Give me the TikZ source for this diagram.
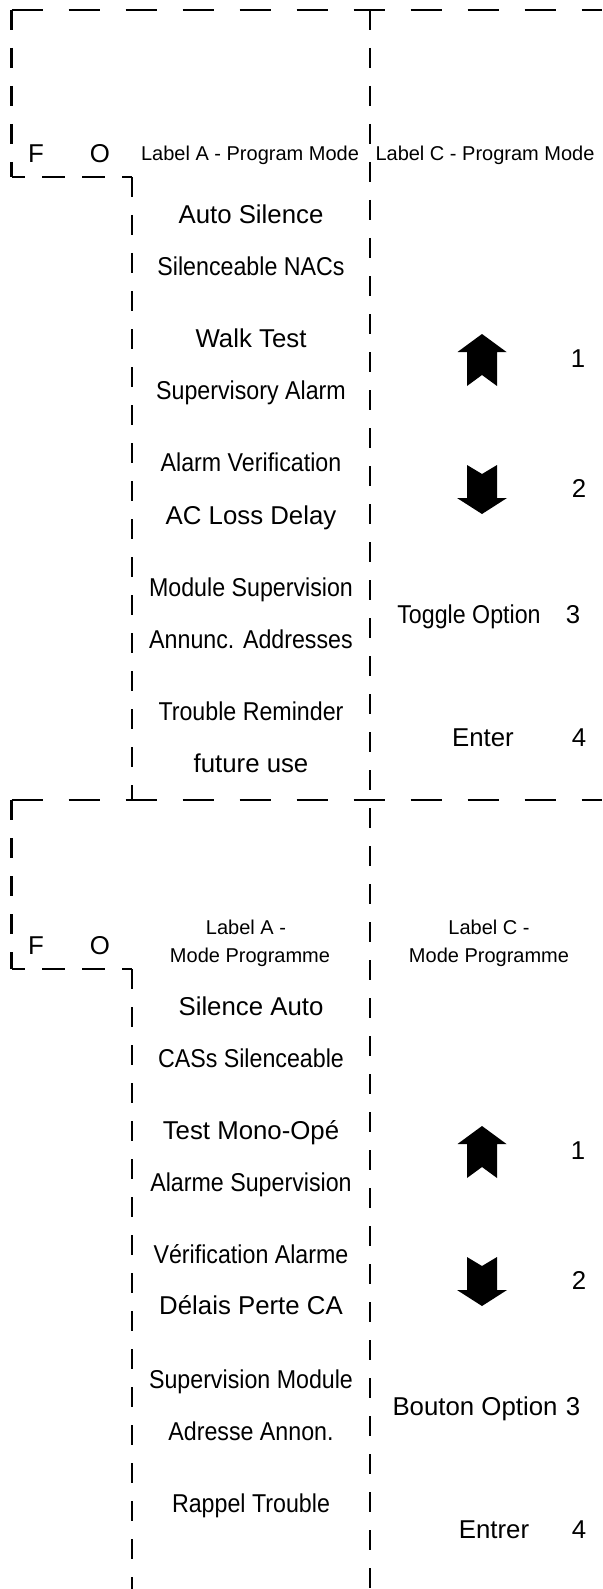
\documentclass[tikz,border=0pt]{standalone}
\usepackage{fontspec}
\setmainfont{Liberation Sans}
\newfontfamily\condfont[FakeStretch=0.9]{Liberation Sans}
\begin{document}
\begin{tikzpicture}[x=1pt,y=-1pt,
  hdash/.style={line width=2.6pt,dash pattern=on 31pt off 26pt},
  boxdash/.style={line width=2.6pt,dash pattern=on 23pt off 17pt,dash phase=9.5pt},
  vdash/.style={line width=2.6pt,dash pattern=on 20pt off 18pt},
  txt/.style={font=\fontsize{25.8}{30}\selectfont,inner sep=0pt,text height=18.5pt,text depth=0pt,anchor=center},
  ctxt/.style={font=\fontsize{25.8}{30}\condfont,inner sep=0pt,text height=18.5pt,text depth=0pt,anchor=center},
  lbl/.style={font=\fontsize{20}{24}\selectfont,inner sep=0pt,text height=14.3pt,text depth=0pt,anchor=center},
  blockarrow/.style={fill=black}]
\useasboundingbox (0,0) rectangle (602,1589);
% ---------- lines ----------
\coordinate (tl) at (11.5,10);
\coordinate (tr) at (602,10);
\coordinate (bl1) at (11.5,177);
\coordinate (br1) at (132,177);
\coordinate (sepL) at (11.5,800);
\coordinate (sepR) at (602,800);
\coordinate (sepM) at (132,800);
\coordinate (midT) at (370,10);
\coordinate (midB) at (370,1589);
\coordinate (bl2) at (11.5,969);
\coordinate (br2) at (132,969);
\coordinate (bot2) at (132,1589);
\draw[hdash] (tl) -- (tr);
\draw[vdash] (tl) -- (bl1);
\draw[boxdash] (bl1) -- (br1);
\draw[vdash] (br1) -- (sepM);
\draw[vdash] (midT) -- (midB);
\draw[hdash] (sepL) -- (sepR);
\draw[vdash] (sepL) -- (bl2);
\draw[boxdash] (bl2) -- (br2);
\draw[vdash] (br2) -- (bot2);
% ---------- top section ----------
\node[txt] (f1) at (36,153) {F};
\node[txt] (o1) at (100,153) {O};
\node[lbl] (la1) at (250,153) {Label A - Program Mode};
\node[lbl] (lc1) at (485,153) {Label C - Program Mode};
\node[txt]  (a1) at (251,214) {Auto Silence};
\node[ctxt] (a2) at (251,266.5) {Silenceable NACs};
\node[txt]  (a3) at (251,338) {Walk Test};
\node[ctxt] (a4) at (251,390.5) {Supervisory Alarm};
\node[ctxt] (a5) at (251,462.5) {Alarm Verification};
\node[txt]  (a6) at (251,515) {AC Loss Delay};
\node[ctxt] (a7) at (251,587) {Module Supervision};
\node[ctxt] (a8) at (251,639) {Annunc. Addresses};
\node[ctxt] (a9) at (251,711) {Trouble Reminder};
\node[txt]  (a10) at (251,763.5) {future use};
\fill[blockarrow] (482,334) -- (506.5,352) -- (497,352) -- (497,386) -- (482,375) -- (467,386) -- (467,352) -- (457.5,352) -- cycle;
\node[txt] (n1) at (578,358) {1};
\fill[blockarrow] (467,465) -- (482,474) -- (497,465) -- (497,498) -- (507,498) -- (482,514) -- (457,498) -- (467,498) -- cycle;
\node[txt] (n2) at (579,488) {2};
\node[ctxt] (c3) at (469,614) {Toggle Option};
\node[txt] (n3) at (573,614) {3};
\node[txt] (c4) at (483,737) {Enter};
\node[txt] (n4) at (579,737) {4};
% ---------- bottom section ----------
\node[txt] (f2) at (36,945) {F};
\node[txt] (o2) at (100,945) {O};
\node[lbl] (la2a) at (246,927) {Label A -};
\node[lbl] (la2b) at (250,955) {Mode Programme};
\node[lbl] (lc2a) at (489,927) {Label C -};
\node[lbl] (lc2b) at (489,955) {Mode Programme};
\node[txt]  (b1) at (251,1006) {Silence Auto};
\node[ctxt] (b2) at (251,1058.5) {CASs Silenceable};
\node[txt]  (b3) at (251,1130) {Test Mono-Opé};
\node[ctxt] (b4) at (251,1182.5) {Alarme Supervision};
\node[ctxt] (b5) at (251,1254.5) {Vérification Alarme};
\node[txt]  (b6) at (251,1305) {Délais Perte CA};
\node[ctxt] (b7) at (251,1379) {Supervision Module};
\node[ctxt] (b8) at (251,1431.5) {Adresse Annon.};
\node[ctxt] (b9) at (251,1503) {Rappel Trouble};
\fill[blockarrow] (482,1126) -- (506.5,1144) -- (497,1144) -- (497,1178) -- (482,1167) -- (467,1178) -- (467,1144) -- (457.5,1144) -- cycle;
\node[txt] (m1) at (578,1150) {1};
\fill[blockarrow] (467,1257) -- (482,1266) -- (497,1257) -- (497,1290) -- (507,1290) -- (482,1306) -- (457,1290) -- (467,1290) -- cycle;
\node[txt] (m2) at (579,1280) {2};
\node[txt] (d3) at (475,1406) {Bouton Option};
\node[txt] (m3) at (573,1406) {3};
\node[txt] (d4) at (494,1529) {Entrer};
\node[txt] (m4) at (579,1529) {4};
\end{tikzpicture}
\end{document}
